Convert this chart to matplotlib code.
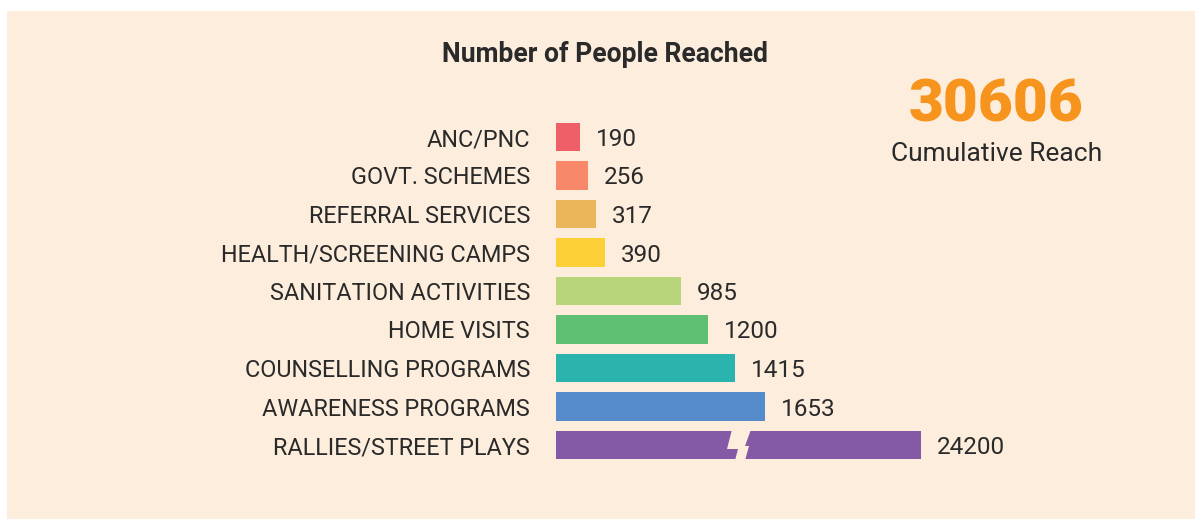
import matplotlib
matplotlib.use("Agg")
import matplotlib.pyplot as plt
from matplotlib.patches import Rectangle, Polygon

# ---- data ----
categories = ["ANC/PNC", "GOVT. SCHEMES", "REFERRAL SERVICES", "HEALTH/SCREENING CAMPS",
              "SANITATION ACTIVITIES", "HOME VISITS", "COUNSELLING PROGRAMS",
              "AWARENESS PROGRAMS", "RALLIES/STREET PLAYS"]
values = [190, 256, 317, 390, 985, 1200, 1415, 1653, 24200]
colors = ["#EF5F67", "#F7896A", "#EBB65A", "#FDD037", "#B9D57C", "#5FBF73",
          "#2BB3AE", "#558BCB", "#8459A5"]
cumulative_reach = 30606
title = "Number of People Reached"
# the largest bar is drawn with a broken axis, truncated at this length
break_display = 2885

W, H = 1195, 519
DPI = 100
BG = "#FDEDDC"
TXT = "#2A2A2A"
plt.rcParams['font.family'] = ['Roboto', 'DejaVu Sans']

fig = plt.figure(figsize=(W / DPI, H / DPI), dpi=DPI)
fig.patch.set_facecolor("white")
fig.patches.append(Rectangle((7 / W, 0), 1 - 7 / W, 1 - 11 / H, transform=fig.transFigure,
                             facecolor=BG, edgecolor="none", zorder=-10))

px_per_unit = 0.1265
left_px, top_px, bot_px = 556, 117.75, 464.25
ax = fig.add_axes([left_px / W, 1 - bot_px / H, 1 - left_px / W, (bot_px - top_px) / H])
ax.set_facecolor("none")
ax.set_zorder(5)
ax.set_xlim(0, (W - left_px) / px_per_unit)
n = len(categories)
ax.set_ylim(n - 0.5, -0.5)

disp = [min(v, break_display) for v in values]
ypos = list(range(n))
bh = 0.75
ax.barh(ypos, disp, height=bh, color=colors, edgecolor="none", zorder=2)

for y, d, v in zip(ypos, disp, values):
    ax.annotate(str(v), xy=(d, y), xytext=(11.5, 0), textcoords="offset points",
                ha="left", va="center_baseline", fontsize=17.5, color=TXT)

# break mark on truncated bar
for y, v, d in zip(ypos, values, disp):
    if v > break_display:
        xu = 1 / px_per_unit  # data units per pixel
        yu = 1 / 38.5         # row units per pixel
        cx = 739 - left_px    # px from bar start
        pts_px = [(-7, -15.5), (12, -15.5), (6, 1), (10, 1), (6, 15.5), (-4, 15.5), (-1, 4), (-12, 4)]
        poly = [((cx + px) * xu, y + py * yu) for px, py in pts_px]
        ax.add_patch(Polygon(poly, closed=True, facecolor=BG, edgecolor="none", zorder=3))

ax.set_yticks(ypos)
ax.set_yticklabels(categories, fontsize=16.8, color=TXT)
ax.tick_params(axis="y", length=0, pad=18.7)
ax.set_xticks([])
for s in ax.spines.values():
    s.set_visible(False)

fig.text(604.5 / W, 1 - 55 / H, title, ha="center", va="center", fontsize=19.1,
         fontweight="bold", color=TXT)
fig.text(996 / W, 1 - 106 / H, str(cumulative_reach), ha="center", va="center",
         fontsize=43.5, fontweight="heavy", color="#F7941D")
fig.text(997 / W, 1 - 154 / H, "Cumulative Reach", ha="center", va="center",
         fontsize=19, color=TXT)

fig.savefig("out.png", dpi=DPI)
